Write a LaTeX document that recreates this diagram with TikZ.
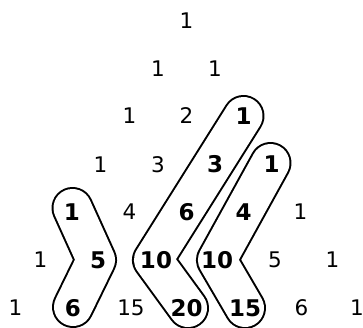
\documentclass[tikz,border=0pt]{standalone}
\usepackage{fontspec}
\newfontfamily\numfont{DejaVu Sans}
\usetikzlibrary{backgrounds,calc}
\tikzset{
  num/.style={inner sep=0pt, font=\numfont\fontsize{21.5}{25}\selectfont},
  hl/.style={num, font=\numfont\bfseries\fontsize{23}{27}\selectfont},
  loop/.style={draw=black, line width=2pt, double=white, double distance=38pt,
    line join=round, line cap=round}
}
\begin{document}
\begin{tikzpicture}[x=1pt,y=-1pt]
\useasboundingbox (0,0) rectangle (363,328);
% row 0
\node[num] (a00) at (186.5,21) {1};
% row 1
\node[num] (a10) at (158,68.5) {1};
\node[num] (a11) at (215,68.5) {1};
% row 2
\node[num] (a20) at (129.5,116) {1};
\node[num] (a21) at (186.5,116) {2};
\node[hl]  (a22) at (243.5,116) {1};
% row 3
\node[num] (a30) at (100.5,164.5) {1};
\node[num] (a31) at (158,164.5) {3};
\node[hl]  (a32) at (215,164.5) {3};
\node[hl]  (a33) at (271.5,164.5) {1};
% row 4
\node[hl]  (a40) at (72,212) {1};
\node[num] (a41) at (129.5,212) {4};
\node[hl]  (a42) at (186.5,212) {6};
\node[hl]  (a43) at (243.5,212) {4};
\node[num] (a44) at (300.5,212) {1};
% row 5
\node[num] (a50) at (40.5,260) {1};
\node[hl]  (a51) at (98,260) {5};
\node[hl]  (a52) at (156,260) {10};
\node[hl]  (a53) at (217,260) {10};
\node[num] (a54) at (275,260) {5};
\node[num] (a55) at (332.5,260) {1};
% row 6
\node[num] (a60) at (15.5,308) {1};
\node[hl]  (a61) at (73,308) {6};
\node[num] (a62) at (131,308) {15};
\node[hl]  (a63) at (186.5,308) {20};
\node[hl]  (a64) at (245,308) {15};
\node[num] (a65) at (301.5,308) {6};
\node[num] (a66) at (357,308) {1};
\begin{scope}[on background layer]
  \fill[white] (0,0) rectangle (363,328);
  \draw[loop] ($(a40.center)+(0.5,-4)$) -- ($(a51.center)+(-2,0)$) -- ($(a61.center)+(0,-1)$);
  \draw[loop] (a22.center) -- ($(a52.center)+(-3,0)$) -- ($(a63.center)+(1.5,0)$);
  \draw[loop] ($(a33.center)+(-1,-1.5)$) -- (a53.center) -- (a64.center);
\end{scope}
\end{tikzpicture}
\end{document}
